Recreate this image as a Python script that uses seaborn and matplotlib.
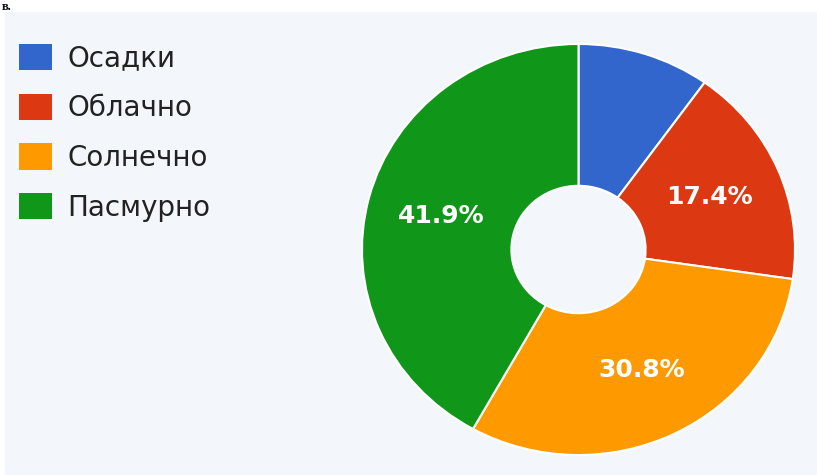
#!/usr/bin/env python3
import matplotlib

matplotlib.use("Agg")
import matplotlib.pyplot as plt
from matplotlib.patches import Patch
import seaborn as sns


CATEGORIES = ["Осадки", "Облачно", "Солнечно", "Пасмурно"]
SHARES = [9.9, 17.4, 30.8, 41.9]
COLORS = ["#3366cc", "#dc3912", "#ff9900", "#109618"]
PANEL_BG = "#f3f7fb"

W, H = 817, 475


def px_box(x0, y0, x1, y1):
    # pixel box (top-left origin) -> figure fraction rect
    return [x0 / W, 1 - y1 / H, (x1 - x0) / W, (y1 - y0) / H]


def pct_label(value):
    return f"{value:.1f}%" if value >= 10 else ""


def main():
    sns.set_theme(style="white")
    plt.rcParams["font.family"] = ["DejaVu Sans"]

    fig = plt.figure(figsize=(W / 100, H / 100), dpi=100, facecolor="white")

    bg = fig.add_axes(px_box(5, 12, 817, 475))
    bg.set_facecolor(PANEL_BG)
    bg.set_xticks([])
    bg.set_yticks([])
    for s in bg.spines.values():
        s.set_visible(False)

    # fragment of the text line above the chart
    fig.text(2 / W, 1 - 0.5 / H, "в.", fontsize=9, family="Liberation Serif",
             fontweight="bold", color="#111111", va="top", ha="left")

    ax = fig.add_axes(px_box(362, 44, 795, 455))
    wedges, texts, autotexts = ax.pie(
        SHARES,
        colors=COLORS,
        startangle=90,
        counterclock=False,
        radius=1,
        autopct=pct_label,
        pctdistance=0.655,
        wedgeprops=dict(width=0.69, edgecolor="white", linewidth=1.5),
        textprops=dict(color="white", fontsize=18, fontweight="bold"),
    )
    ax.set_aspect("auto")
    ax.set_xlim(-1, 1)
    ax.set_ylim(-1, 1)
    ax.axis("off")

    handles = [Patch(facecolor=c, edgecolor="none") for c in COLORS]
    fig.legend(
        handles,
        CATEGORIES,
        loc="upper left",
        bbox_to_anchor=(19 / W, 1 - 44 / H),
        frameon=False,
        fontsize=20,
        handlelength=1.19,
        handleheight=1.08,
        handletextpad=0.54,
        labelspacing=0.76,
        borderpad=0,
        borderaxespad=0,
        labelcolor="#222222",
    )

    fig.savefig("out.png", dpi=100, facecolor="white")
    plt.close(fig)


if __name__ == "__main__":
    main()
